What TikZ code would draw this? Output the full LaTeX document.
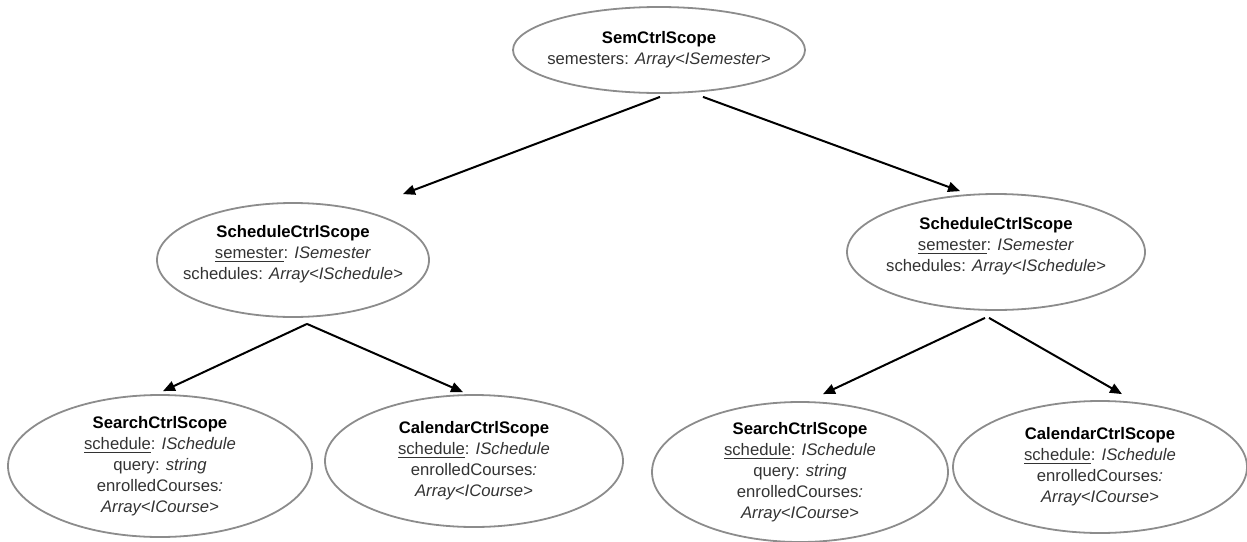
\documentclass[tikz,border=0pt]{standalone}
\usepackage{fontspec}
\setmainfont{Liberation Sans}
\usepackage{xcolor}
\usetikzlibrary{shapes.geometric,arrows.meta}

\tikzset{
    scopebox/.style 2 args={ellipse, draw=black!45, line width=0.9pt, inner sep=0pt,
        minimum width=#1*0.5pt, minimum height=#2*0.5pt},
    scopetext/.style={align=center, inner sep=0pt, text=black!80,
        font=\fontsize{8.35}{10.5}\selectfont},
    link/.style={draw=black, line width=1pt, -{Triangle[length=6pt,width=5pt]}}
}
\newcommand{\scopename}[1]{\textcolor{black}{\textbf{#1}}}

\begin{document}
\begin{tikzpicture}[x=0.5pt, y=-0.5pt]
        \useasboundingbox (0,0) rectangle (1247,541);
        % controller scopes
        \node[scopebox={292}{86}] (sem) at (659,50) {};
        \node[scopetext] (sem-txt) at (sem) {\scopename{SemCtrlScope}\\ semesters: \textit{Array<ISemester>}};
        \node[scopebox={272}{114}] (schedL) at (293,260) {};
        \node[scopetext] (schedL-txt) at ([yshift=3pt]schedL) {\scopename{ScheduleCtrlScope}\\ \underline{semester}: \textit{ISemester}\\ schedules: \textit{Array<ISchedule>}};
        \node[scopebox={298}{116}] (schedR) at (996,252) {};
        \node[scopetext] (schedR-txt) at ([yshift=3pt]schedR) {\scopename{ScheduleCtrlScope}\\ \underline{semester}: \textit{ISemester}\\ schedules: \textit{Array<ISchedule>}};
        \node[scopebox={304}{142}] (searchL) at (160,466) {};
        \node[scopetext] (searchL-txt) at (searchL) {\scopename{SearchCtrlScope}\\ \underline{schedule}: \textit{ISchedule}\\ query: \textit{string}\\ enrolledCourses\textit{:}\\ \textit{Array<ICourse>}};
        \node[scopebox={298}{132}] (calL) at (474,461) {};
        \node[scopetext] (calL-txt) at (calL) {\scopename{CalendarCtrlScope}\\ \underline{schedule}: \textit{ISchedule}\\ enrolledCourses\textit{:}\\ \textit{Array<ICourse>}};
        \node[scopebox={296}{140}] (searchR) at (800,472) {};
        \node[scopetext] (searchR-txt) at (searchR) {\scopename{SearchCtrlScope}\\ \underline{schedule}: \textit{ISchedule}\\ query: \textit{string}\\ enrolledCourses\textit{:}\\ \textit{Array<ICourse>}};
        \node[scopebox={294}{132}] (calR) at (1100,467) {};
        \node[scopetext] (calR-txt) at (calR) {\scopename{CalendarCtrlScope}\\ \underline{schedule}: \textit{ISchedule}\\ enrolledCourses\textit{:}\\ \textit{Array<ICourse>}};
        % parent -> child
        \draw[link] ([shift={(1,3)}]sem.south) -- ([shift={(110,-8)}]schedL.north);
        \draw[link] ([shift={(44,3)}]sem.south) -- ([shift={(-36,-2)}]schedR.north);
        \draw[link] ([shift={(14,6)}]schedL.south) -- ([shift={(3,-3)}]searchL.north);
        \draw[link] ([shift={(14,6)}]schedL.south) -- ([shift={(-11,-2)}]calL.north);
        \draw[link] ([shift={(-11,7)}]schedR.south) -- ([shift={(23,-7)}]searchR.north);
        \draw[link] ([shift={(-7,7)}]schedR.south) -- ([shift={(22,-6)}]calR.north);
    \end{tikzpicture}
\end{document}
